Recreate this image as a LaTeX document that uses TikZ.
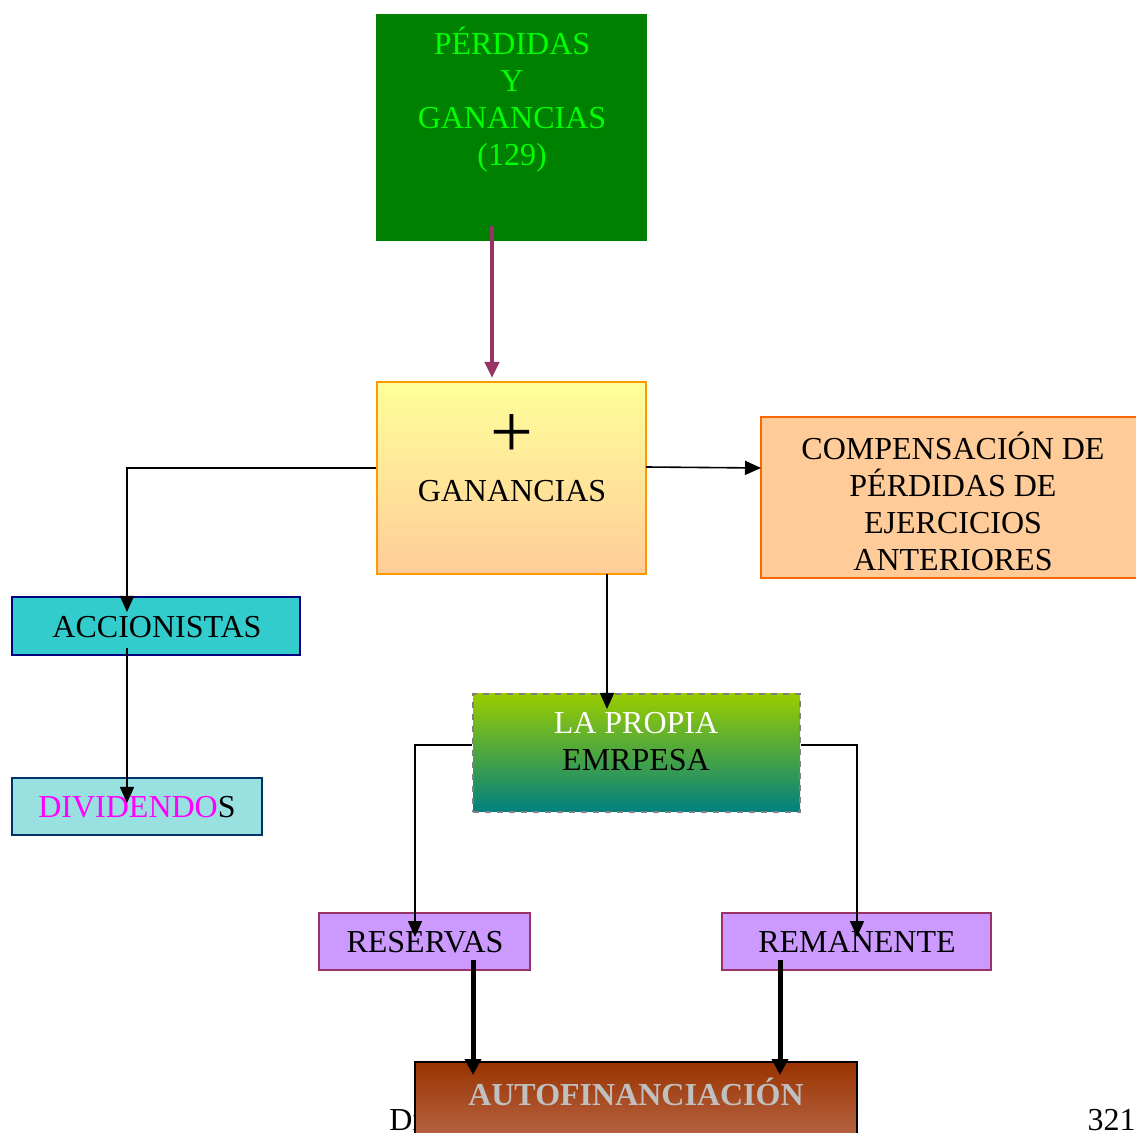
\documentclass[tikz,border=0pt]{standalone}
\usepackage{fontspec}
\setmainfont{Liberation Serif}
\usetikzlibrary{arrows.meta,calc}
\definecolor{pygfill}{HTML}{008000}
\definecolor{pygtext}{HTML}{00FF00}
\definecolor{purp}{HTML}{993366}
\definecolor{ganTop}{HTML}{FFFF99}
\definecolor{ganBot}{HTML}{FFCC99}
\definecolor{ganBorder}{HTML}{FF9900}
\definecolor{compFill}{HTML}{FFCC99}
\definecolor{compBorder}{HTML}{FF6600}
\definecolor{accFill}{HTML}{33CCCC}
\definecolor{accBorder}{HTML}{000080}
\definecolor{divFill}{HTML}{99E0E0}
\definecolor{divBorder}{HTML}{003366}
\definecolor{empTop}{HTML}{99CC00}
\definecolor{empBot}{HTML}{008080}
\definecolor{resFill}{HTML}{CC99FF}
\definecolor{autoTop}{HTML}{993300}
\definecolor{autoBot}{HTML}{B8684A}
\definecolor{autoText}{HTML}{C0C0C0}
\definecolor{magtext}{HTML}{FF00FF}
\begin{document}
\begin{tikzpicture}[x=0.5pt,y=-0.5pt,
  box/.style={rectangle,inner sep=0pt,line width=1pt},
  txt/.style={font=\fontsize{16pt}{18.5pt}\selectfont,align=center,inner sep=0pt},
  conn/.style={line width=0.8pt,-{Triangle[length=8pt,width=7pt]}},
  thickconn/.style={line width=2.5pt,-{Triangle[length=8pt,width=8pt]}}
]
\useasboundingbox (0,0) rectangle (1136,1133);
% boxes
\node[box,fill=pygfill,minimum width=135.5pt,minimum height=113.5pt] (pyg) at (511.5,127.5) {};
\node[txt,text=pygtext] (pygt) at (512,100) {PÉRDIDAS\\Y\\GANANCIAS\\(129)};
\node[box,draw=ganBorder,top color=ganTop,bottom color=ganBot,minimum width=134.5pt,minimum height=96pt] (gan) at (511.5,478) {};
\node[inner sep=0pt,font=\fontsize{38pt}{38pt}\selectfont] (plus) at (512,436) {+};
\node[txt] (gant) at (512,491) {GANANCIAS};
\node[box,draw=compBorder,fill=compFill,minimum width=188pt,minimum height=80.5pt] (comp) at (949,497.5) {};
\node[txt] (compt) at (953,501) {COMPENSACIÓN DE\\PÉRDIDAS DE\\EJERCICIOS\\ANTERIORES};
\node[box,draw=accBorder,fill=accFill,minimum width=144pt,minimum height=29pt] (acc) at (156,626) {};
\node[txt] (acct) at (157,627) {ACCIONISTAS};
\node[box,draw=divBorder,fill=divFill,minimum width=125pt,minimum height=28.5pt] (div) at (137,806.5) {};
\node[txt] (divt) at (137,807) {\textcolor{magtext}{DIVIDENDO}S};
\node[box,draw=gray,dashed,top color=empTop,bottom color=empBot,minimum width=163.5pt,minimum height=59pt] (emp) at (636.5,753) {};
\node[txt] (empt) at (636,742) {\textcolor{white}{LA PROPIA}\\EMRPESA};
\node[box,draw=purp,fill=resFill,minimum width=105.5pt,minimum height=28.5pt] (res) at (424.5,941.5) {};
\node[txt] (rest) at (425,942) {RESERVAS};
\node[box,draw=purp,fill=resFill,minimum width=134.5pt,minimum height=28.5pt] (rem) at (856.5,941.5) {};
\node[txt] (remt) at (857,942) {REMANENTE};
% footer text (partly hidden)
\node[txt,anchor=west] (dr) at (389,1120) {Dr};
\node[txt,anchor=east] (pg) at (1136,1120) {321};
\node[box,draw=black,top color=autoTop,bottom color=autoBot,minimum width=221pt,minimum height=40pt,anchor=north] (auto) at (636,1061) {};
\node[txt,font=\fontsize{16pt}{18.5pt}\selectfont\bfseries,text=autoText] (autot) at (636,1092) {AUTOFINANCIACIÓN};
% coordinates
\coordinate (ganIn) at (492,378);
\coordinate (pygOut) at (492,226);
\coordinate (yL) at (0,468);
\coordinate (accIn) at (127,612);
\coordinate (accOut) at (127,648);
\coordinate (divIn) at (127,803);
\coordinate (ganOut) at (607,574);
\coordinate (empIn) at (607,709);
\coordinate (yE) at (0,745);
\coordinate (resIn) at (415,937);
\coordinate (remIn) at (857,937);
\coordinate (resOut) at (473,960);
\coordinate (autoInL) at (473,1075);
\coordinate (remOut) at (780,960);
\coordinate (autoInR) at (780,1075);
\coordinate (compIn) at (761,468);
\coordinate (ganR) at (646,467);
% connectors
\draw[line width=2.2pt,purp,-{Triangle[length=8pt,width=7pt]}] (pygOut) -- (ganIn);
\draw[conn] (gan.west |- yL) -| (accIn);
\draw[conn] (accOut) -- (divIn);
\draw[conn] (ganR) -- (compIn);
\draw[conn] (ganOut) -- (empIn);
\draw[conn] (emp.west |- yE) -| (resIn);
\draw[conn] (emp.east |- yE) -| (remIn);
\draw[thickconn] (resOut) -- (autoInL);
\draw[thickconn] (remOut) -- (autoInR);
\end{tikzpicture}
\end{document}
